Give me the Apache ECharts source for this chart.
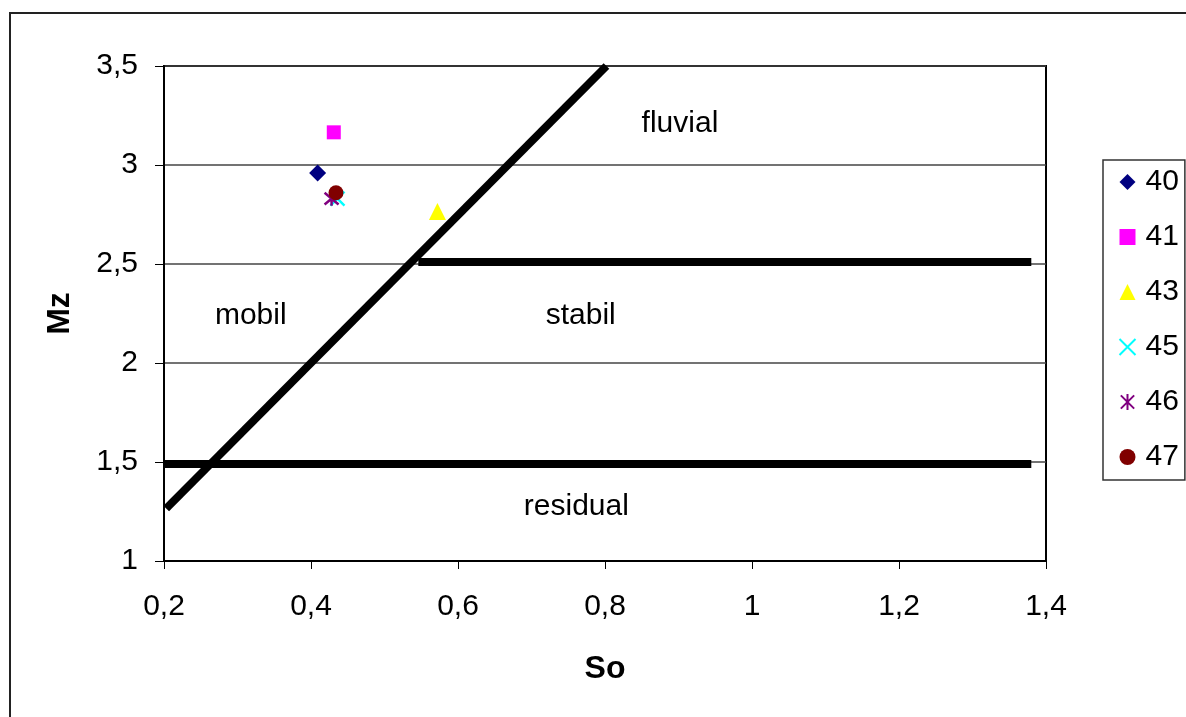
<!DOCTYPE html>
<html><head><meta charset="utf-8">
<script src="https://cdn.jsdelivr.net/npm/echarts@6/dist/echarts.min.js"></script>
<style>html,body{margin:0;padding:0;background:#fff}#c{width:1186px;height:717px}</style>
</head><body><div id="c"></div>
<script>
// Sample points (So, Mz)
const sampleNames = ['40', '41', '43', '45', '46', '47'];
const s40 = [[0.409, 2.96]];
const s41 = [[0.431, 3.165]];
const s43 = [[0.572, 2.765]];
const s45 = [[0.436, 2.83]];
const s46 = [[0.428, 2.83]];
const s47 = [[0.434, 2.86]];
// boundary lines
const diagonalLine = [[0.203, 1.265], [0.802, 3.5]];
const stabilLine = [[0.546, 2.51], [1.38, 2.51]];
const residualLine = [[0.2, 1.49], [1.38, 1.49]];
// region labels
const regionLabels = [
  { name: 'fluvial', value: [0.902, 3.207] },
  { name: 'mobil', value: [0.318, 2.237] },
  { name: 'stabil', value: [0.767, 2.237] },
  { name: 'residual', value: [0.761, 1.273] }
];
const xTicks = { min: 0.2, max: 1.4, interval: 0.2 };
const yTicks = { min: 1, max: 3.5, interval: 0.5 };

const FONT = 'Liberation Sans, Arial, sans-serif';
const fmt = v => String(Math.round(v * 10) / 10).replace('.', ',');
const crossPath = 'path://M0,0 L10,10 M10,0 L0,10';
const starPath = 'path://M0,0 L10,10 M10,0 L0,10 M5,-1 L5,11';

const chart = echarts.init(document.getElementById('c'), null, { renderer: 'canvas' });
const lineSeries = d => ({
  type: 'line', data: d, symbol: 'none', silent: true,
  lineStyle: { color: '#000', width: 8, cap: 'butt' }, z: 3
});
const pt = (name, data, symbol, size, color, extra) => Object.assign({
  name, type: 'scatter', data, symbol, symbolSize: size,
  itemStyle: { color, opacity: 1 }, z: 5
}, extra || {});

chart.setOption({
  animation: false,
  backgroundColor: '#fff',
  graphic: [{
    type: 'rect', z: -10,
    shape: { x: 10, y: 13, width: 1400, height: 900 },
    style: { fill: 'none', stroke: '#222', lineWidth: 2 }
  }],
  grid: { left: 164, top: 66, right: 140, bottom: 156, show: true, borderColor: '#000', borderWidth: 2, backgroundColor: '#fff' },
  xAxis: {
    type: 'value', min: xTicks.min, max: xTicks.max, interval: xTicks.interval,
    name: 'So', nameLocation: 'middle', nameGap: 92,
    nameTextStyle: { fontFamily: FONT, fontSize: 32, fontWeight: 'bold', color: '#000' },
    axisLine: { lineStyle: { color: '#000', width: 2 } },
    axisTick: { show: true, length: 8, lineStyle: { color: '#000', width: 1 } },
    axisLabel: { formatter: fmt, fontFamily: FONT, fontSize: 30, color: '#000', margin: 31 },
    splitLine: { show: false }
  },
  yAxis: {
    type: 'value', min: yTicks.min, max: yTicks.max, interval: yTicks.interval,
    name: 'Mz', nameLocation: 'middle', nameGap: 88, nameRotate: 90,
    nameTextStyle: { fontFamily: FONT, fontSize: 32, fontWeight: 'bold', color: '#000' },
    axisLine: { show: true, lineStyle: { color: '#000', width: 2 } },
    axisTick: { show: true, length: 9, lineStyle: { color: '#000', width: 1 } },
    axisLabel: { formatter: fmt, fontFamily: FONT, fontSize: 30, color: '#000', margin: 26 },
    splitLine: { show: true, lineStyle: { color: '#444', width: 1.5 } }
  },
  legend: {
    orient: 'vertical', left: 1103, top: 160, data: sampleNames,
    borderColor: '#333', borderWidth: 1.5, backgroundColor: '#fff',
    padding: [7, 6, 8, 14], itemGap: 25, itemWidth: 16, itemHeight: 16,
    textStyle: { fontFamily: FONT, fontSize: 30, lineHeight: 30, color: '#000', padding: [0, 0, 0, 5] }
  },
  series: [
    lineSeries(diagonalLine),
    lineSeries(stabilLine),
    lineSeries(residualLine),
    {
      type: 'scatter', data: regionLabels, symbolSize: 0, silent: true, z: 4,
      itemStyle: { opacity: 1 },
      label: { show: true, position: 'inside', formatter: p => p.name, fontFamily: FONT, fontSize: 30, color: '#000' }
    },
    pt('40', s40, 'diamond', 17, '#000080'),
    pt('41', s41, 'rect', 14, '#ff00ff'),
    pt('43', s43, 'triangle', 17, '#ffff00'),
    pt('45', s45, crossPath, 14, '#00ffff', { itemStyle: { color: 'none', borderColor: '#00ffff', borderWidth: 2.5, opacity: 1 } }),
    pt('46', s46, starPath, 14, '#800080', { itemStyle: { color: 'none', borderColor: '#800080', borderWidth: 2.5, opacity: 1 } }),
    pt('47', s47, 'circle', 15, '#800000')
  ]
});
</script></body></html>
